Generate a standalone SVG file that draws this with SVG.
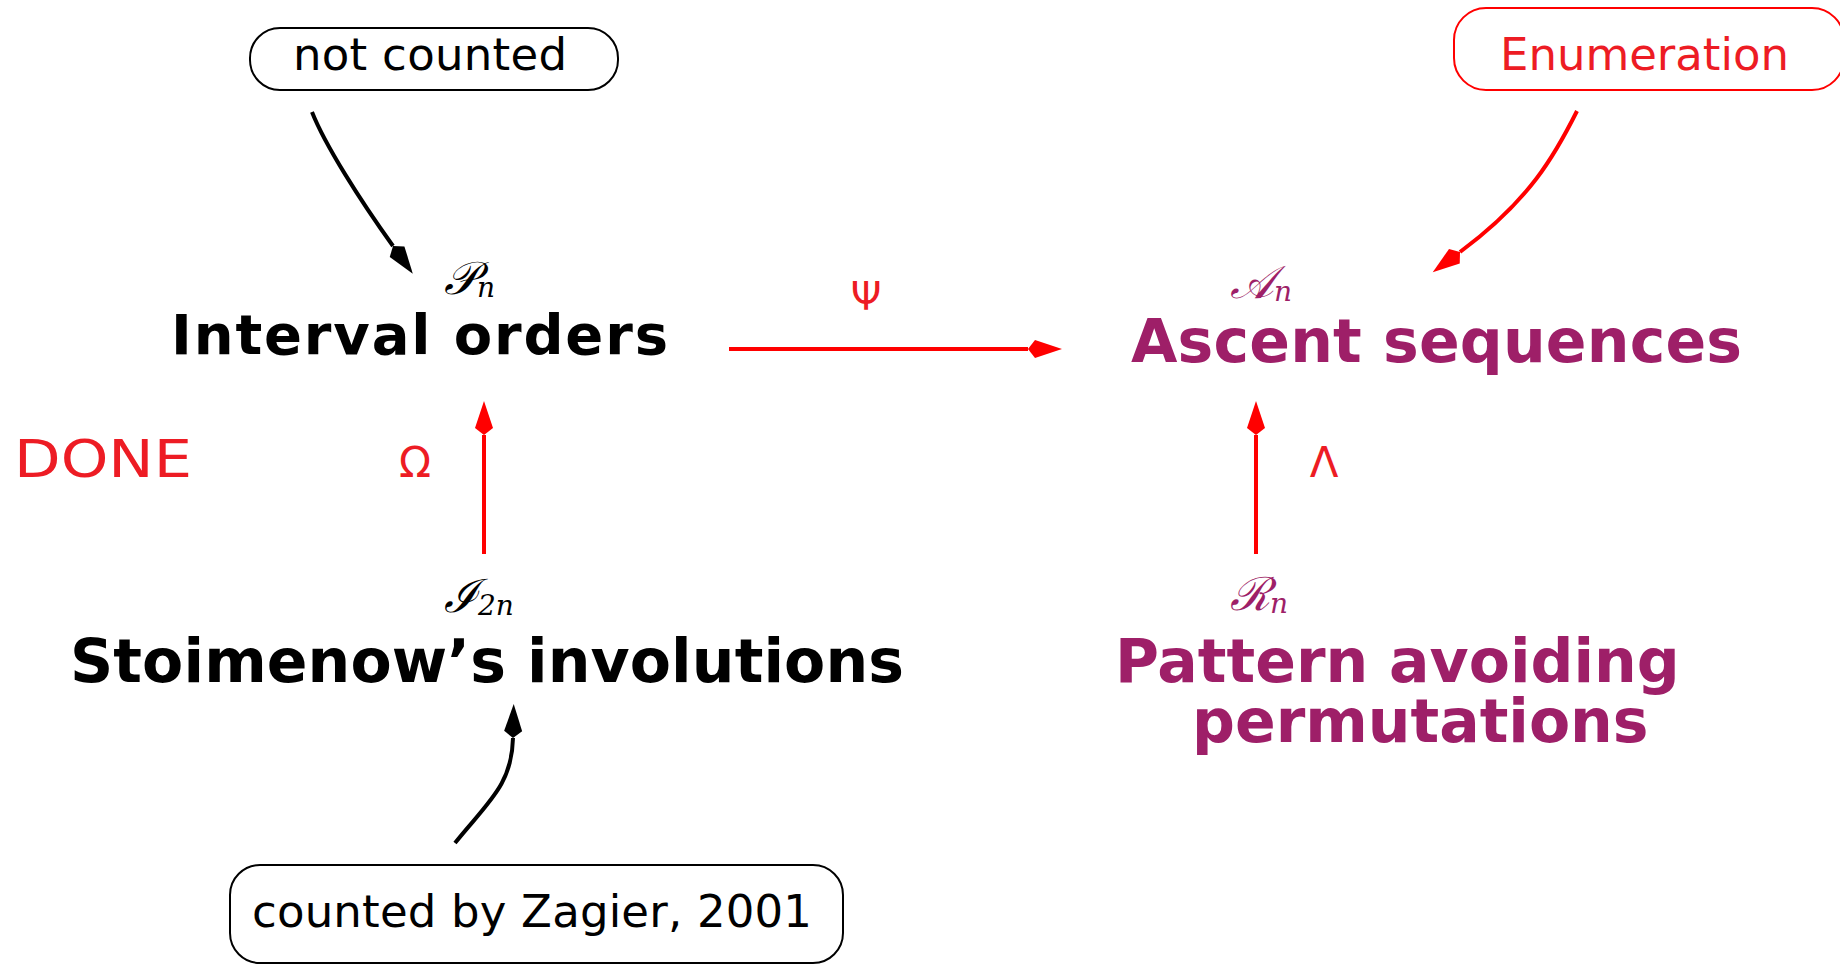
<svg xmlns="http://www.w3.org/2000/svg" width="1840" height="965" viewBox="0 0 1840 965">
<defs>
<marker id="hk" markerUnits="userSpaceOnUse" markerWidth="40" markerHeight="24" viewBox="0 -12 40 24" refX="0" refY="0" orient="auto" overflow="visible"><path d="M0,0 L7,-9 L34,0 L7,9 Z" fill="#000"/></marker>
<marker id="hr" markerUnits="userSpaceOnUse" markerWidth="40" markerHeight="24" viewBox="0 -12 40 24" refX="0" refY="0" orient="auto" overflow="visible"><path d="M0,0 L7,-9 L34,0 L7,9 Z" fill="#ff0000"/></marker>
</defs>
<style>
.sans{font-family:"DejaVu Sans","Liberation Sans",sans-serif}
.big{font-family:"DejaVu Sans","Liberation Sans",sans-serif;font-weight:bold;font-size:60px}
.box{font-family:"DejaVu Sans","Liberation Sans",sans-serif;font-size:45px}
.math{font-family:"DejaVu Serif","Liberation Serif",serif;font-style:italic;font-size:46px}
.sub{font-size:28px}
.black{fill:#000}
.purple{fill:#9e1f68}
.redt{fill:#ed1c24}
.greek{font-family:"DejaVu Sans","Liberation Sans",sans-serif;font-size:42px;fill:#ed1c24}
.kline{fill:none;stroke:#000;stroke-width:4}
.rline{fill:none;stroke:#ff0000;stroke-width:4}
</style>
<rect width="1840" height="965" fill="#fff"/>

<g id="node-not-counted">
<rect x="250" y="28" width="368" height="62" rx="30" ry="30" fill="none" stroke="#000" stroke-width="2"/>
<text x="293" y="70" class="box black" textLength="274" lengthAdjust="spacing">not counted</text>
</g>

<g id="node-enumeration">
<rect x="1454" y="8" width="390" height="82" rx="32" ry="32" fill="none" stroke="#ff0000" stroke-width="2"/>
<text x="1500" y="70" class="box redt" textLength="289" lengthAdjust="spacing">Enumeration</text>
</g>

<g id="node-interval-orders">
<text x="444" y="294" class="math black">𝒫<tspan class="sub" dy="3">n</tspan></text>
<text x="171" y="354" class="big black" style="font-size:56px" textLength="497" lengthAdjust="spacing">Interval orders</text>
</g>

<g id="node-ascent-sequences">
<text x="1230" y="298" class="math purple">𝒜<tspan class="sub" dy="3">n</tspan></text>
<text x="1131" y="362" class="big purple" textLength="611" lengthAdjust="spacing">Ascent sequences</text>
</g>

<g id="node-stoimenow">
<text x="444" y="612" class="math black">ℐ<tspan class="sub" dy="3">2n</tspan></text>
<text x="70" y="682" class="big black" textLength="834" lengthAdjust="spacing">Stoimenow’s involutions</text>
</g>

<g id="node-pattern-avoiding">
<text x="1230" y="610" class="math purple">ℛ<tspan class="sub" dy="3">n</tspan></text>
<text class="big purple"><tspan x="1115" y="682">Pattern avoiding</tspan><tspan x="1192" y="742">permutations</tspan></text>
</g>

<g id="node-zagier">
<rect x="230" y="865" width="613" height="98" rx="30" ry="30" fill="none" stroke="#000" stroke-width="2"/>
<text x="252" y="927" class="box black" textLength="560" lengthAdjust="spacing">counted by Zagier, 2001</text>
</g>

<g id="node-done">
<text x="14" y="477" class="sans redt" style="font-size:51px" textLength="178" lengthAdjust="spacingAndGlyphs">DONE</text>
</g>

<g id="connectors">
<path class="kline" d="M312,112 C325,145 360,200 393,246" marker-end="url(#hk)"/>
<path class="rline" d="M1577,111 C1555,155 1530,200 1460,252" marker-end="url(#hr)"/>
<path class="rline" d="M729,349 L1028,349" marker-end="url(#hr)"/>
<path class="rline" d="M484,554 L484,435" marker-end="url(#hr)"/>
<path class="rline" d="M1256,554 L1256,435" marker-end="url(#hr)"/>
<path class="kline" d="M455,843 C488,802 512,785 513,738" marker-end="url(#hk)"/>
<text x="866" y="310" class="greek" style="font-size:39px" text-anchor="middle">Ψ</text>
<text x="415" y="477" class="greek" text-anchor="middle">Ω</text>
<text x="1324" y="477" class="greek" text-anchor="middle">Λ</text>
</g>
</svg>
